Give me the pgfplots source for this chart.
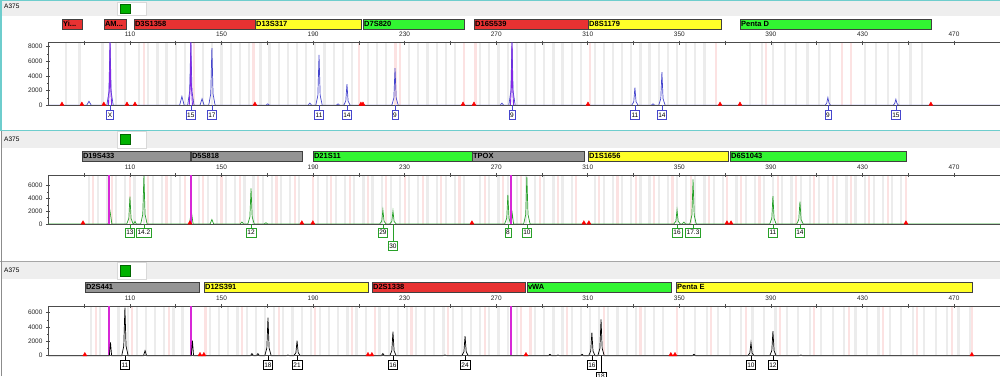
\documentclass[border=0pt]{standalone}
\usepackage{fontspec}
\setmainfont{Liberation Sans}
\usepackage{pgfplots}
\pgfplotsset{compat=1.18}
\definecolor{tb}{RGB}{70,70,205}
\definecolor{tp}{RGB}{130,40,230}
\definecolor{tg}{RGB}{40,160,40}
\definecolor{mag}{RGB}{215,40,215}
\definecolor{lred}{RGB}{232,50,50}
\definecolor{lyel}{RGB}{255,255,40}
\definecolor{lgrn}{RGB}{50,245,50}
\definecolor{lgry}{RGB}{148,148,148}
\definecolor{stg}{RGB}{236,236,236}
\definecolor{stp}{RGB}{252,226,226}
\definecolor{teal1}{RGB}{110,205,205}
\definecolor{hdr}{RGB}{238,238,238}
\pgfplotsset{
 peaks/.style={scale only axis, width=952pt, xmin=74.2, xmax=490.1, ymin=0,
  axis x line=top, axis y line=left, axis line style={-, draw=black!70, line width=0.8pt},
  xtick={90,110,...,470}, xticklabels={,110,,150,,190,,230,,270,,310,,350,,390,,430,,470},
  tick align=center, major tick length=4pt, minor tick length=2pt, minor y tick num=1,
  tick style={black!70, line width=0.6pt},
  tick label style={font=\fontsize{6.5}{7}\selectfont, text=black!85},
  /pgf/number format/assume math mode=true, /pgf/number format/set thousands separator={},
  scaled y ticks=false, clip=false, anchor=south west, unbounded coords=jump},
 bg/.style={scale only axis, width=952pt, xmin=74.2, xmax=490.1, ymin=0, ymax=1,
  hide axis, clip=false, anchor=south west},
 stripg/.style={ycomb, draw=stg, line width=2.2pt, mark=none},
 stripp/.style={ycomb, draw=stp, line width=2.2pt, mark=none},
 magl/.style={color=mag, line width=1.8pt, mark=none},
 tri/.style={only marks, mark=triangle*, mark size=2.3pt, color=red, mark options={fill=red}},
}
\newcommand{\locus}[6]{%
 \filldraw[fill=#3, draw=black!75, line width=0.5pt] (axis cs:#1,#5) rectangle (axis cs:#2,#6);
 \node[anchor=west, inner sep=1pt, font=\fontsize{7.5}{8}\selectfont\bfseries] at (axis cs:#1,{(#5+#6)/2}) {#4};}
\newcommand{\allele}[4]{%
 \draw[#3, line width=0.5pt] (axis cs:#1,0) -- ++(0pt,-#4pt);
 \node[draw=#3, fill=white, line width=0.6pt, anchor=north, yshift=-#4pt, inner sep=1.2pt, minimum height=9pt, text depth=0pt, font=\fontsize{6.5}{7}\selectfont] at (axis cs:#1,0) {#2};}
\begin{document}
\begin{tikzpicture}
\useasboundingbox (0pt,0pt) rectangle (1000pt,376pt);
\clip (0pt,0pt) rectangle (1000pt,376pt);
\fill[white] (0pt,0pt) rectangle (1000pt,376pt);
% headers
\fill[hdr] (2pt,360pt) rectangle (1000pt,374.5pt);
\filldraw[fill=white, draw=black!15] (117pt,361pt) rectangle (146pt,374pt);
\filldraw[fill=green!70!black, draw=green!40!black] (120pt,363pt) rectangle (130pt,372pt);
\node[anchor=west, inner sep=0pt, font=\fontsize{6.5}{7}\selectfont] at (4pt,369.5pt) {A375};
\fill[hdr] (2pt,228pt) rectangle (1000pt,245pt);
\filldraw[fill=white, draw=black!15] (117pt,228pt) rectangle (146pt,245pt);
\filldraw[fill=green!70!black, draw=green!40!black] (120pt,232pt) rectangle (130pt,242pt);
\node[anchor=west, inner sep=0pt, font=\fontsize{6.5}{7}\selectfont] at (4pt,237pt) {A375};
\draw[black!35, line width=0.8pt] (0pt,114.3pt) -- (1000pt,114.3pt);
\fill[hdr] (2pt,97pt) rectangle (1000pt,114pt);
\filldraw[fill=white, draw=black!15] (117pt,97pt) rectangle (146pt,114pt);
\filldraw[fill=green!70!black, draw=green!40!black] (120pt,100pt) rectangle (130pt,111pt);
\node[anchor=west, inner sep=0pt, font=\fontsize{6.5}{7}\selectfont] at (4pt,106pt) {A375};
\draw[black!45, line width=0.8pt] (1pt,0pt) -- (1pt,245pt);
\draw[teal1, line width=1.5pt] (1pt,245.5pt) -- (1pt,375.3pt) -- (1000pt,375.3pt);
\draw[teal1, line width=1.5pt] (0pt,245.5pt) -- (1000pt,245.5pt);

% ================= PANEL 1 =================
\begin{axis}[bg, at={(48pt,270.7pt)}, height=62.8pt]
\addplot[stripg] coordinates {(82,1)(88,1)(98,1)(104,1)(108,1)(114,1)(118,1)(122,1)(126,1)(130,1)(134,1)(142,1)(146,1)(150,1)(154,1)(158,1)(162,1)(167,1)(171,1)(175,1)(179,1)(183,1)(187,1)(191,1)(195,1)(199,1)(203,1)(207,1)(214,1)(218,1)(222,1)(232,1)(236,1)(240,1)(244,1)(248,1)(252,1)(263,1)(267,1)(271,1)(275,1)(279,1)(283,1)(287,1)(291,1)(295,1)(299,1)(303,1)(307,1)(313,1)(317,1)(321,1)(325,1)(329,1)(333,1)(337,1)(341,1)(345,1)(349,1)(353,1)(357,1)(361,1)(381,1)(386,1)(391,1)(396,1)(401,1)(406,1)(411,1)(416,1)(431,1)(436,1)(441,1)(446,1)(451,1)(456,1)};
\addplot[stripp] coordinates {(116,1)(138,1)(164,1)(210,1)(226,1)(228,1)(256,1)(261,1)(311,1)(366,1)(388,1)(421,1)(425,1)};
\locus{80.3}{89.0}{lred}{Yi...}{1.215}{1.374}
\locus{98.6}{108.3}{lred}{AM...}{1.215}{1.374}
\locus{111.7}{164.6}{lred}{D3S1358}{1.215}{1.374}
\locus{164.6}{210.9}{lyel}{D13S317}{1.215}{1.374}
\locus{211.8}{255.9}{lgrn}{D7S820}{1.215}{1.374}
\locus{260.3}{310.1}{lred}{D16S539}{1.215}{1.374}
\locus{310.1}{368.2}{lyel}{D8S1179}{1.215}{1.374}
\locus{376.5}{459.9}{lgrn}{Penta D}{1.215}{1.374}
\end{axis}
\begin{axis}[peaks, at={(48pt,270.7pt)}, height=62.8pt, ymax=8567, ytick={0,2000,...,8000}]
\addplot[tb, line width=0.7pt, mark=none] coordinates {(74.2,0)(91.1,0)(92.1,550)(93.1,0)
(99.9,0)(100.8,1800)(101.3,8567)(101.8,1800)(102.7,0)
(131.7,0)(132.7,1200)(133.7,0)
(135.2,0)(136.1,1900)(136.6,8567)(137.1,1900)(138.0,0)
(140.6,0)(141.5,900)(142.4,0)
(144.4,0)(145.3,1560)(145.8,7800)(146.3,1560)(147.2,0)
(169.4,0)(170.2,200)(171.0,0)
(187.8,0)(188.6,300)(189.4,0)
(191.2,0)(192.1,1380)(192.6,6880)(193.1,1380)(194.0,0)
(200.1,0)(200.9,200)(201.7,0)
(203.4,0)(204.3,580)(204.8,2900)(205.3,580)(206.2,0)
(224.4,0)(225.3,1010)(225.8,5060)(226.3,1010)(227.2,0)
(271.7,0)(272.5,300)(273.3,0)
(275.5,0)(276.4,1900)(276.9,8567)(277.4,1900)(278.3,0)
(329.2,0)(330.1,480)(330.6,2420)(331.1,480)(332.0,0)
(337.7,0)(338.5,200)(339.3,0)
(341.0,0)(341.9,900)(342.4,4510)(342.9,900)(343.8,0)
(413.7,0)(414.4,300)(414.9,1050)(415.4,300)(416.1,0)
(443.4,0)(444.1,250)(444.6,820)(445.1,250)(445.8,0)(490.1,0)};
\addplot[tp, line width=0.9pt, mark=none] coordinates {(100.6,0)(101.1,3000)(101.3,8567)(101.5,3000)(102.0,0)(118,nan)(135.9,0)(136.4,3000)(136.6,8567)(136.8,3000)(137.3,0)(200,nan)(276.2,0)(276.7,3000)(276.9,8567)(277.1,3000)(277.6,0)};
\addplot[black!70, line width=0.8pt, mark=none] coordinates {(74.2,0)(490.1,0)};
\addplot[tri] coordinates {(80.3,140)(89.0,140)(98.6,140)(108.7,140)(112.2,140)(164.6,140)(210.9,140)(211.8,140)(255.5,140)(260.3,140)(310.1,140)(367.8,140)(376.5,140)(459.9,140)};
\allele{101.3}{X}{tb}{4.7}
\allele{136.6}{15}{tb}{4.7}
\allele{145.8}{17}{tb}{4.7}
\allele{192.6}{11}{tb}{4.7}
\allele{204.8}{14}{tb}{4.7}
\allele{225.8}{9}{tb}{4.7}
\allele{276.9}{9}{tb}{4.7}
\allele{330.6}{11}{tb}{4.7}
\allele{342.4}{14}{tb}{4.7}
\allele{414.9}{9}{tb}{4.7}
\allele{444.6}{15}{tb}{4.7}
\end{axis}

% ================= PANEL 2 =================
\begin{axis}[bg, at={(48pt,152pt)}, height=49pt]
\addplot[stripg] coordinates {(92,1)(96,1)(100,1)(104,1)(108,1)(112,1)(116,1)(120,1)(124,1)(128,1)(132,1)(140,1)(144,1)(148,1)(152,1)(156,1)(160,1)(164,1)(168,1)(172,1)(176,1)(180,1)(184,1)(192,1)(196,1)(200,1)(204,1)(208,1)(212,1)(216,1)(220,1)(224,1)(228,1)(232,1)(236,1)(240,1)(244,1)(248,1)(252,1)(256,1)(263,1)(267,1)(271,1)(275,1)(279,1)(283,1)(287,1)(291,1)(295,1)(299,1)(303,1)(313,1)(317,1)(321,1)(325,1)(329,1)(333,1)(337,1)(341,1)(345,1)(349,1)(353,1)(357,1)(361,1)(365,1)(369,1)(375,1)(379,1)(383,1)(387,1)(391,1)(395,1)(399,1)(403,1)(407,1)(411,1)(415,1)(419,1)(423,1)(427,1)(431,1)(435,1)(439,1)(443,1)(447,1)};
\addplot[stripp] coordinates {(94,1)(102,1)(110,1)(118,1)(126,1)(134,1)(142,1)(150,1)(158,1)(166,1)(174,1)(182,1)(190,1)(198,1)(206,1)(214,1)(222,1)(230,1)(238,1)(246,1)(254,1)(265,1)(273,1)(281,1)(289,1)(297,1)(305,1)(315,1)(323,1)(331,1)(339,1)(347,1)(355,1)(363,1)(371,1)(377,1)(385,1)(393,1)(401,1)(409,1)(417,1)(425,1)(433,1)(441,1)(449,1)};
\locus{89.0}{136.2}{lgry}{D19S433}{1.286}{1.476}
\locus{136.6}{185.1}{lgry}{D5S818}{1.286}{1.476}
\locus{189.9}{259.4}{lgrn}{D21S11}{1.286}{1.476}
\locus{259.4}{308.3}{lgry}{TPOX}{1.286}{1.476}
\locus{310.1}{371.2}{lyel}{D1S1656}{1.286}{1.476}
\locus{372.1}{449.0}{lgrn}{D6S1043}{1.286}{1.476}
\end{axis}
\begin{axis}[peaks, at={(48pt,152pt)}, height=49pt, ymax=7670, ytick={0,2000,4000,6000}]
\addplot[tg, line width=0.7pt, mark=none] coordinates {(74.2,0)
(100.5,0)(101.3,2000)(102.1,0)
(108.6,0)(109.5,860)(110.0,4280)(110.5,860)(111.4,0)
(111.6,0)(112.2,400)(112.8,0)
(114.7,0)(115.6,1500)(116.1,7500)(116.6,1500)(117.5,0)
(136.0,0)(136.8,2000)(137.6,0)
(145.0,0)(145.8,700)(146.6,0)
(158.1,0)(158.9,300)(159.7,0)
(161.5,0)(162.4,1120)(162.9,5580)(163.4,1120)(164.3,0)
(168.6,0)(169.4,200)(170.2,0)
(219.1,0)(220.0,440)(220.5,2190)(221.0,440)(221.9,0)
(223.5,0)(224.4,410)(224.9,2030)(225.4,410)(226.3,0)
(273.7,0)(274.6,910)(275.1,4540)(275.6,910)(276.3,0)
(276.5,0)(277.0,1670)(277.6,0)
(282.0,0)(282.9,1480)(283.4,7400)(283.9,1480)(284.8,0)
(347.6,0)(348.5,440)(349.0,2190)(349.5,440)(350.4,0)
(351.3,0)(352.0,300)(352.7,0)
(354.6,0)(355.5,1400)(356.0,6990)(356.5,1400)(357.4,0)
(389.5,0)(390.4,880)(390.9,4380)(391.4,880)(392.3,0)
(401.3,0)(402.2,700)(402.7,3500)(403.2,700)(404.1,0)(490.1,0)};
\addplot[magl] coordinates {(100.8,0)(100.8,7670)(119,nan)(136.8,0)(136.8,7670)(200,nan)(276.4,0)(276.4,7670)};
\addplot[black!70, line width=0.8pt, mark=none] coordinates {(74.2,0)(490.1,0)};
\addplot[tri] coordinates {(89.5,160)(136.2,160)(185.1,160)(189.9,160)(259.4,160)(308.3,160)(310.5,160)(370.8,160)(372.6,160)(449.0,160)};
\allele{110.0}{13}{tg}{3.7}
\allele{116.1}{14.2}{tg}{3.7}
\allele{162.9}{12}{tg}{3.7}
\allele{220.5}{29}{tg}{3.7}
\allele{224.9}{30}{tg}{17}
\allele{275.1}{8}{tg}{3.7}
\allele{283.4}{10}{tg}{3.7}
\allele{349.0}{16}{tg}{3.7}
\allele{356.0}{17.3}{tg}{3.7}
\allele{390.9}{11}{tg}{3.7}
\allele{402.7}{14}{tg}{3.7}
\end{axis}

% ================= PANEL 3 =================
\begin{axis}[bg, at={(48pt,20.3pt)}, height=49.7pt]
\addplot[stripg] coordinates {(93,1)(97,1)(105,1)(109,1)(113,1)(117,1)(121,1)(125,1)(129,1)(133,1)(145,1)(149,1)(153,1)(157,1)(161,1)(165,1)(169,1)(173,1)(177,1)(181,1)(185,1)(189,1)(193,1)(197,1)(201,1)(205,1)(209,1)(213,1)(219,1)(223,1)(227,1)(231,1)(235,1)(239,1)(243,1)(247,1)(251,1)(255,1)(259,1)(263,1)(267,1)(271,1)(275,1)(279,1)(287,1)(291,1)(295,1)(299,1)(303,1)(307,1)(311,1)(315,1)(319,1)(323,1)(327,1)(331,1)(335,1)(339,1)(343,1)(352,1)(357,1)(362,1)(367,1)(372,1)(377,1)(382,1)(387,1)(392,1)(397,1)(402,1)(407,1)(412,1)(417,1)(422,1)(427,1)(432,1)(437,1)(442,1)(447,1)(452,1)(457,1)(462,1)(467,1)(472,1)(477,1)};
\addplot[stripp] coordinates {(95,1)(111,1)(127,1)(143,1)(159,1)(175,1)(191,1)(207,1)(217,1)(233,1)(249,1)(265,1)(281,1)(285,1)(301,1)(317,1)(333,1)(349,1)(364,1)(379,1)(394,1)(409,1)(424,1)(439,1)(454,1)(469,1)(478,1)};
\locus{90.3}{140.1}{lgry}{D2S441}{1.282}{1.483}
\locus{142.3}{214.0}{lyel}{D12S391}{1.282}{1.483}
\locus{215.7}{282.6}{lred}{D2S1338}{1.282}{1.483}
\locus{283.4}{346.3}{lgrn}{vWA}{1.282}{1.483}
\locus{348.5}{477.8}{lyel}{Penta E}{1.282}{1.483}
\end{axis}
\begin{axis}[peaks, at={(48pt,20.3pt)}, height=49.7pt, ymax=6930, ytick={0,2000,4000,6000}]
\addplot[magl] coordinates {(100.8,0)(100.8,6930)(119,nan)(136.8,0)(136.8,6930)(200,nan)(276.4,0)(276.4,6930)};
\addplot[black, line width=0.7pt, mark=none] coordinates {(74.2,0)
(101.0,0)(101.5,1860)(102.0,0)
(106.4,0)(107.3,1340)(107.8,6700)(108.3,1340)(109.2,0)
(115.9,0)(116.6,700)(117.3,0)
(136.8,0)(137.3,2100)(137.8,0)
(162.6,0)(163.3,300)(164.0,0)
(165.2,0)(165.9,300)(166.6,0)
(168.9,0)(169.8,1060)(170.3,5300)(170.8,1060)(171.7,0)
(178.3,0)(179.0,100)(179.7,0)
(181.6,0)(182.5,420)(183.0,2090)(183.5,420)(184.4,0)
(219.8,0)(220.5,300)(221.2,0)
(223.5,0)(224.4,670)(224.9,3350)(225.4,670)(226.3,0)
(246.8,0)(247.6,100)(248.4,0)
(255.0,0)(255.9,550)(256.4,2740)(256.9,550)(257.8,0)
(292.8,0)(293.5,200)(294.2,0)
(296.3,0)(297.0,100)(297.7,0)
(306.8,0)(307.5,200)(308.2,0)
(310.4,0)(311.3,640)(311.8,3210)(312.3,640)(313.2,0)
(314.4,0)(315.3,1010)(315.8,5070)(316.3,1010)(317.2,0)
(355.7,0)(356.4,200)(357.1,0)
(379.9,0)(380.8,360)(381.3,1810)(381.8,360)(382.7,0)
(389.5,0)(390.4,690)(390.9,3440)(391.4,690)(392.3,0)
(402.4,0)(403.1,100)(403.8,0)(490.1,0)};
\addplot[black!70, line width=0.8pt, mark=none] coordinates {(74.2,0)(490.1,0)};
\addplot[tri] coordinates {(90.3,140)(140.6,140)(142.3,140)(214.0,140)(215.7,140)(283.0,140)(346.3,140)(348.1,140)(477.8,140)};
\allele{107.8}{11}{black}{4.3}
\allele{170.3}{18}{black}{4.3}
\allele{183.0}{21}{black}{4.3}
\allele{224.9}{16}{black}{4.3}
\allele{256.4}{24}{black}{4.3}
\allele{311.8}{16}{black}{4.3}
\allele{315.8}{18}{black}{16}
\allele{381.3}{10}{black}{4.3}
\allele{390.9}{12}{black}{4.3}
\end{axis}
\end{tikzpicture}
\end{document}
